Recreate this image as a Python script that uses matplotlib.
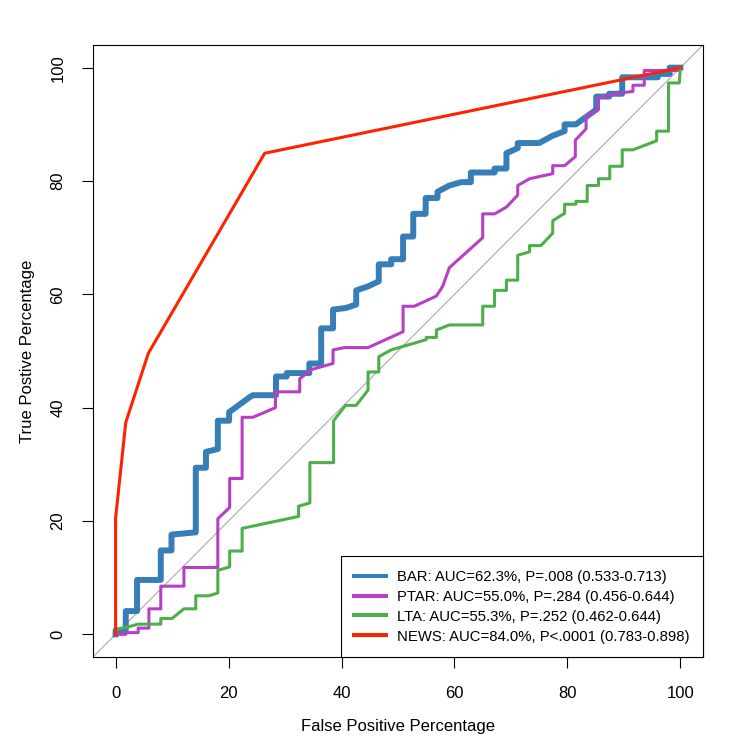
import matplotlib.pyplot as plt
from matplotlib.lines import Line2D

plt.rcParams['font.family'] = ['Liberation Sans', 'DejaVu Sans']

# ROC curves (false positive %, true positive %)
bar_fpr = [0, 0, 1.8, 1.8, 3.8, 3.8, 8.0, 8.0, 9.9, 9.9, 14.2, 14.2, 16.0, 16.0, 18.1, 18.1,
           20.1, 20.1, 23.8, 24.3, 28.4, 28.4, 30.3, 30.3, 34.3, 34.3, 36.4, 36.4, 38.5, 38.5,
           40.8, 42.6, 42.6, 44.7, 46.6, 46.6, 48.8, 48.8, 50.9, 50.9, 52.7, 52.7, 54.9, 54.9,
           57.0, 57.0, 59.1, 61.2, 62.9, 62.9, 67.1, 67.1, 69.2, 69.2, 71.2, 71.2, 75.0, 77.4,
           79.5, 79.5, 81.5, 85.1, 85.1, 87.4, 87.4, 89.7, 89.7, 96.0, 96.0, 98.1, 98.1, 100]
bar_tpr = [0, 0.7, 0.7, 4.1, 4.1, 9.6, 9.6, 14.8, 14.8, 17.6, 18.0, 29.4, 29.4, 32.2, 32.7, 37.7,
           37.7, 39.2, 41.9, 42.2, 42.2, 45.5, 45.5, 46.1, 46.1, 47.8, 47.8, 54.0, 54.0, 57.3,
           57.6, 58.2, 60.7, 61.4, 62.3, 65.3, 65.3, 66.2, 66.2, 70.2, 70.2, 74.2, 74.2, 77.0,
           77.0, 78.1, 79.2, 79.8, 79.8, 81.5, 81.5, 82.2, 82.2, 84.9, 85.8, 86.7, 86.7, 88.0,
           88.8, 90.0, 90.0, 92.6, 94.9, 94.9, 95.4, 95.4, 98.3, 98.3, 98.9, 98.9, 100, 100]

ptar_fpr = [0, 1.8, 1.8, 4.0, 4.0, 5.9, 5.9, 8.0, 8.0, 12.1, 12.1, 18.1, 18.1, 20.2, 20.2, 22.4,
            22.4, 24.3, 28.3, 28.3, 32.6, 32.6, 34.6, 38.5, 38.5, 40.5, 44.7, 50.9, 50.9, 52.9,
            56.8, 57.9, 59.1, 65.0, 65.0, 67.1, 69.2, 71.2, 71.2, 73.3, 77.4, 77.4, 79.5, 81.4,
            81.4, 83.3, 83.3, 85.5, 85.5, 89.8, 91.6, 91.6, 93.6, 93.6, 99.5, 100]
ptar_tpr = [0, 0, 0.3, 0.3, 1.1, 1.1, 4.5, 4.5, 8.5, 8.5, 11.8, 11.8, 20.4, 22.4, 27.5, 27.5,
            38.3, 38.3, 40.0, 42.8, 42.8, 45.1, 46.7, 47.8, 50.2, 50.6, 50.6, 53.4, 57.9, 57.9,
            59.7, 61.4, 64.7, 70.0, 74.2, 74.2, 75.4, 77.5, 79.2, 80.4, 81.3, 82.7, 82.7, 84.3,
            87.2, 89.2, 91.4, 92.6, 94.7, 95.6, 95.8, 96.9, 96.9, 99.5, 99.5, 100]

lta_fpr = [0, 0, 1.8, 4.0, 8.0, 8.0, 10.0, 12.1, 14.2, 14.2, 16.5, 18.1, 18.1, 20.2, 20.2, 22.4,
           22.4, 32.4, 32.4, 34.4, 34.4, 38.6, 38.6, 40.7, 42.6, 44.7, 44.7, 46.6, 46.6, 48.8,
           55.0, 55.0, 56.8, 56.8, 59.1, 65.0, 65.0, 67.1, 67.1, 69.2, 69.2, 71.2, 71.2, 73.3,
           73.3, 75.3, 77.4, 77.4, 79.5, 79.5, 81.5, 81.5, 83.5, 83.5, 85.5, 85.5, 87.5, 87.5,
           89.7, 89.7, 91.6, 95.8, 95.8, 97.9, 97.9, 99.8, 100]
lta_tpr = [0, 0.9, 1.2, 1.8, 1.8, 2.8, 2.8, 4.5, 4.5, 6.8, 6.8, 7.3, 11.3, 11.9, 14.7, 14.7,
           18.7, 20.8, 22.6, 23.2, 30.3, 30.3, 37.7, 40.4, 40.4, 43.1, 46.3, 46.3, 49.0, 50.2,
           52.0, 52.4, 52.4, 53.7, 54.6, 54.6, 57.9, 57.9, 60.7, 60.7, 62.5, 62.5, 66.9, 67.5,
           68.6, 68.6, 70.8, 73.0, 74.3, 75.9, 75.9, 76.4, 76.4, 79.2, 79.2, 80.4, 80.4, 82.6,
           82.6, 85.5, 85.5, 87.1, 88.8, 88.8, 97.3, 97.3, 100]

news_fpr = [0, 0, 1.8, 5.8, 26.4, 100]
news_tpr = [0, 20.5, 37.4, 49.6, 84.9, 100]

labels = ['BAR: AUC=62.3%, P=.008 (0.533-0.713)',
          'PTAR: AUC=55.0%, P=.284 (0.456-0.644)',
          'LTA: AUC=55.3%, P=.252 (0.462-0.644)',
          'NEWS: AUC=84.0%, P<.0001 (0.783-0.898)']
colors = ['#377EB8', '#B63FC6', '#4DAF4A', '#FF2200']

fig = plt.figure(figsize=(7.5, 7.5), dpi=100)
ax = fig.add_axes([0.124, 0.124, 0.8133, 0.816])

# chance line
ax.axline((0, 0), (100, 100), color='#AAAAAA', lw=0.8, zorder=1)

ax.plot(bar_fpr, bar_tpr, color=colors[0], lw=4.3, zorder=2)
ax.plot(ptar_fpr, ptar_tpr, color=colors[1], lw=2.2, zorder=3)
ax.plot(lta_fpr, lta_tpr, color=colors[2], lw=2.2, zorder=4)
ax.plot(news_fpr, news_tpr, color=colors[3], lw=2.2, zorder=5)

ax.set_xlim(-4, 104)
ax.set_ylim(-4, 104)
ax.set_xticks([0, 20, 40, 60, 80, 100])
ax.set_yticks([0, 20, 40, 60, 80, 100])
ax.tick_params(direction='out', length=7.9, width=0.8, labelsize=12, pad=12)
ax.tick_params(axis='x', pad=13)
plt.setp(ax.get_yticklabels(), rotation=90, va='center')
for s in ax.spines.values():
    s.set_linewidth(0.8)

ax.set_xlabel('False Positive Percentage', fontsize=12, labelpad=13)
ax.set_ylabel('True Postive Percentage', fontsize=12, labelpad=11)

handles = [Line2D([], [], color=c, lw=2.9) for c in colors]
leg = ax.legend(handles, labels, loc='lower right', fontsize=10.7, frameon=True,
                fancybox=False, edgecolor='black', framealpha=1, borderaxespad=0,
                handlelength=2.15, handletextpad=0.75, labelspacing=0.4, borderpad=0.9)
leg.get_frame().set_linewidth(0.8)

plt.savefig('out.png', dpi=100)
